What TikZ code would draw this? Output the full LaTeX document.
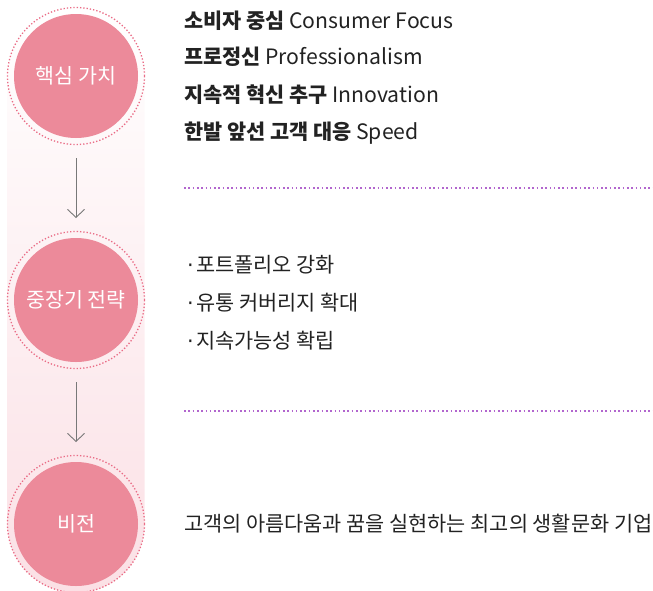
\documentclass[tikz,border=0pt]{standalone}
\usepackage{fontspec}
\setmainfont{Noto Sans CJK KR}
\newfontfamily\dvfont{DejaVu Sans}
\usetikzlibrary{arrows.meta}
\definecolor{circfill}{RGB}{236,138,154}
\definecolor{ringdot}{RGB}{234,108,134}
\definecolor{stripbot}{RGB}{251,224,229}
\definecolor{sepline}{RGB}{178,102,206}
\definecolor{arrowgray}{RGB}{120,120,120}
\definecolor{txt}{RGB}{34,34,34}
\newcommand{\latpart}[1]{{\fontsize{21.2}{24}\selectfont #1}}
\newcommand{\bulletdot}{{\dvfont ·}\hspace{2.5pt}}
\tikzset{
  stage/.style={circle, fill=circfill, minimum size=124pt, inner sep=0pt, text=white, font=\fontsize{20.6}{24}\selectfont},
  ring/.style={circle, draw=ringdot, line width=1.3pt, dash pattern=on 1.3pt off 2.0pt, minimum size=137pt, inner sep=0pt},
  flow/.style={draw=arrowgray, line width=0.9pt, -{Straight Barb[length=8pt,width=17pt,line width=0.9pt]}},
  sep/.style={draw=sepline, line width=1.2pt, dash pattern=on 1.6pt off 2.7pt},
  body/.style={anchor=base west, inner sep=0pt, text=txt, font=\fontsize{20.8}{24}\selectfont}
}
\begin{document}
\begin{tikzpicture}[x=1pt,y=-1pt]
\useasboundingbox (0,0) rectangle (653,590);
\begin{scope}
\clip (0,0) rectangle (653,590);
\shade[top color=white, bottom color=stripbot, rounded corners=68pt] (7.5,7.5) rectangle (144.5,592.5);
\node[ring] (r1) at (76,76) {};
\node[ring] (r2) at (76,300) {};
\node[ring] (r3) at (76,524) {};
\node[stage] (c1) at (76,76) {핵심 가치};
\node[stage] (c2) at (76,300) {중장기 전략};
\node[stage] (c3) at (76,524) {비전};
\end{scope}
\coordinate (a1s) at (76,158);
\coordinate (a1e) at (76,218);
\coordinate (a2s) at (76,382);
\coordinate (a2e) at (76,442);
\draw[flow] (a1s) -- (a1e);
\draw[flow] (a2s) -- (a2e);
\node[body] (v1) at (184,28.5) {\textbf{소비자 중심} \latpart{Consumer Focus}};
\node[body] (v2) at (184,64.5) {\textbf{프로정신} \latpart{Professionalism}};
\node[body] (v3) at (184,102) {\textbf{지속적 혁신 추구} \latpart{Innovation}};
\node[body] (v4) at (184,139) {\textbf{한발 앞선 고객 대응} \latpart{Speed}};
\coordinate (l1s) at (184,188);
\coordinate (l1e) at (653,188);
\draw[sep] (l1s) -- (l1e);
\node[body] (s1) at (187,272) {\bulletdot 포트폴리오 강화};
\node[body] (s2) at (187,310) {\bulletdot 유통 커버리지 확대};
\node[body] (s3) at (187,348) {\bulletdot 지속가능성 확립};
\coordinate (l2s) at (184,411);
\coordinate (l2e) at (653,411);
\draw[sep] (l2s) -- (l2e);
\node[body] (vis) at (184,531) {고객의 아름다움과 꿈을 실현하는 최고의 생활문화 기업};
\end{tikzpicture}
\end{document}
